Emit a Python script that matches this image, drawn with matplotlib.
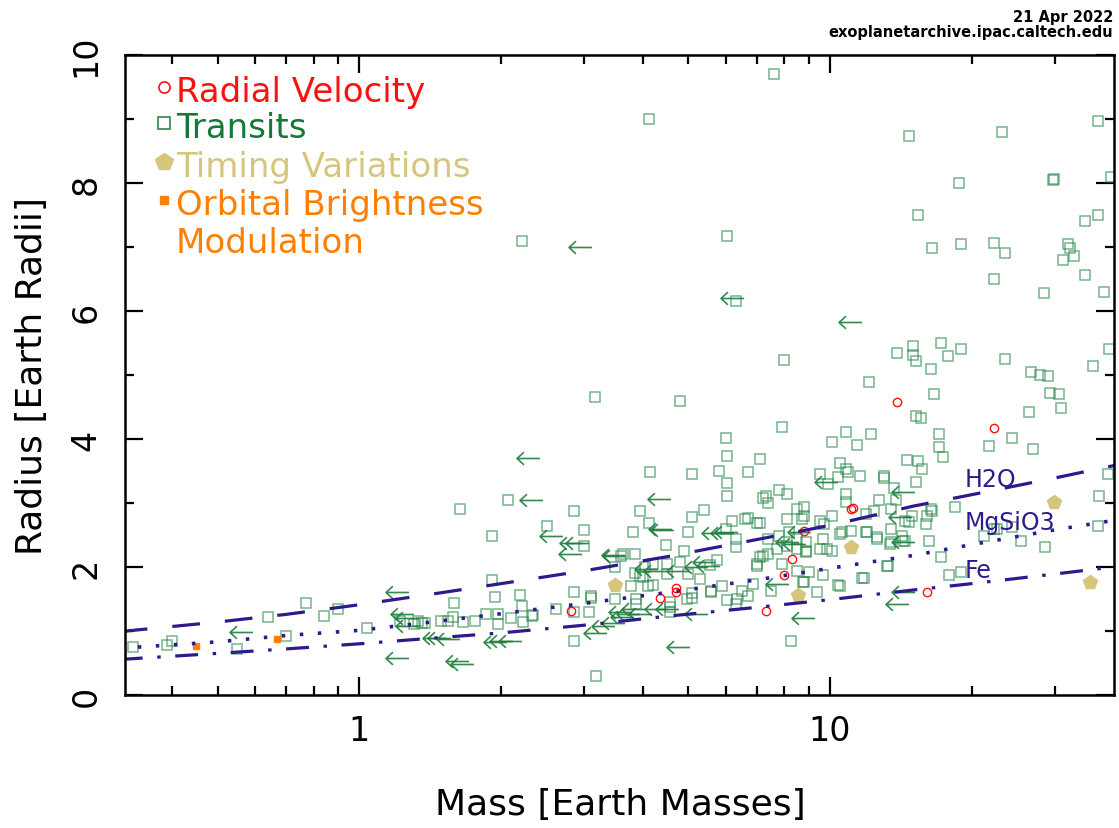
import numpy as np
import matplotlib
matplotlib.use("Agg")
import matplotlib.pyplot as plt
from matplotlib.path import Path
from matplotlib.ticker import FixedLocator, FixedFormatter, NullFormatter

# --- data (mass [Earth masses], radius [Earth radii]) ---

transits = [
    # big / isolated ones
    (7.6, 9.7), (4.13, 9.0), (14.7, 8.73), (23.2, 8.8), (37.1, 8.97),
    (18.8, 8.0), (29.9, 8.07), (29.8, 8.04), (39.5, 8.1), (15.4, 7.5),
    (16.5, 6.98), (19.0, 7.05), (22.3, 7.06), (23.5, 6.9), (32.0, 7.05),
    (32.4, 6.98), (33.0, 6.86), (31.3, 6.8), (34.8, 7.4), (37.0, 7.5),
    (34.8, 6.56), (22.3, 6.5), (28.5, 6.28), (38.2, 6.3), (6.04, 7.17),
    (6.3, 6.15), (2.22, 7.1),
    # 4 - 6
    (3.17, 4.66), (4.8, 4.6), (8.0, 5.23), (7.9, 4.19), (13.9, 5.34),
    (15.0, 5.45), (15.0, 5.31), (15.2, 5.22), (17.2, 5.5), (17.8, 5.3),
    (19.0, 5.4), (16.4, 5.1), (12.1, 4.89), (16.6, 4.7), (15.2, 4.36),
    (15.6, 4.33), (23.5, 5.25), (26.7, 5.05), (27.9, 5.0), (29.1, 4.98),
    (29.3, 4.72), (30.7, 4.7), (30.9, 4.48), (26.5, 4.42), (36.1, 5.14),
    (39.2, 5.4), (21.8, 3.89), (24.4, 4.02), (27.0, 3.84),
    # 3 - 4
    (17.0, 4.08), (17.0, 3.88), (17.4, 3.72), (14.6, 3.67), (15.4, 3.66),
    (15.7, 3.53), (15.2, 3.33), (13.0, 3.42), (13.0, 3.39), (10.8, 4.11),
    (10.1, 3.95), (11.4, 3.9), (12.2, 4.08), (6.0, 4.02), (6.05, 3.73),
    (7.1, 3.69), (6.05, 3.31), (6.05, 3.11), (5.8, 3.5), (6.7, 3.48),
    (4.15, 3.48), (5.1, 3.45), (10.5, 3.62), (10.8, 3.53), (10.9, 3.48),
    (9.5, 3.45), (9.9, 3.3), (10.4, 3.4), (11.6, 3.42), (10.8, 3.14),
    (10.8, 3.02), (12.7, 3.05), (13.8, 3.05), (13.7, 3.23), (7.3, 3.11),
    (7.2, 3.08), (7.4, 3.0), (7.8, 3.2), (8.1, 3.14), (37.2, 3.11),
    (39.0, 3.45), (2.07, 3.05), (1.64, 2.9), (2.86, 2.88), (3.95, 2.88),
    # 2 - 3
    (3.0, 2.58), (4.13, 2.69), (3.81, 2.55), (3.0, 2.33), (4.49, 2.34),
    (5.0, 2.55), (5.1, 2.78), (5.4, 2.89), (6.0, 2.6), (6.2, 2.72),
    (6.3, 2.44), (6.3, 2.31), (6.6, 2.75), (6.7, 2.77), (7.0, 2.69),
    (7.1, 2.69), (11.9, 2.83), (12.4, 2.88), (13.5, 2.9), (14.4, 2.72),
    (14.9, 2.8), (16.4, 2.9), (16.1, 2.8), (16.0, 2.67), (18.4, 2.94),
    (16.2, 2.4), (14.4, 2.4), (13.5, 2.6), (13.5, 2.39), (12.6, 2.47),
    (12.6, 2.44), (11.9, 2.55), (11.1, 2.56), (10.5, 2.52), (17.2, 2.16),
    (13.3, 2.02), (21.2, 2.49), (22.3, 2.6), (25.4, 2.4), (28.6, 2.31),
    (37.0, 2.64), (14.7, 2.7), (16.5, 2.88), (22.6, 2.6), (24.4, 2.62),
    (1.91, 2.49), (2.5, 2.64), (8.1, 2.75), (8.5, 2.9), (8.8, 2.94),
    (8.7, 2.75), (8.8, 2.8), (9.5, 2.72), (10.1, 2.8), (9.7, 2.67),
    (10.6, 2.55), (12.0, 2.55), (14.2, 2.48), (14.3, 2.41), (13.4, 2.36),
    (7.4, 2.44), (7.8, 2.48), (8.2, 2.55), (8.5, 2.44), (8.9, 2.39),
    (8.9, 2.25), (8.5, 2.28), (7.4, 2.2), (7.1, 2.16), (7.2, 2.17),
    (7.7, 2.28), (8.1, 2.33), (9.65, 2.44), (9.85, 2.28), (10.1, 2.25),
    (9.5, 2.28), (8.9, 2.23), (3.63, 2.2), (3.85, 2.2), (4.05, 2.0),
    (4.2, 2.05), (4.5, 2.05), (4.8, 2.08), (4.9, 2.25), (3.6, 2.17),
    (5.55, 2.03), (5.75, 2.11), (7.0, 2.02), (7.0, 2.05), (7.9, 2.05),
    # 1.5 - 2
    (11.8, 1.83), (17.9, 1.87), (19.0, 1.92), (13.2, 2.02), (11.7, 1.83),
    (10.4, 1.72), (8.5, 1.94), (9.0, 1.92), (9.65, 1.88), (8.8, 1.77),
    (9.4, 1.61), (10.5, 1.7), (8.76, 1.77), (6.85, 1.73), (6.5, 1.63),
    (6.7, 1.55), (6.35, 1.5), (6.3, 1.42), (6.05, 1.48), (5.9, 1.7),
    (5.6, 1.63), (5.3, 1.81), (5.0, 1.89), (4.57, 1.45), (4.57, 1.38),
    (4.57, 1.3), (5.1, 1.52), (5.1, 1.59), (4.97, 1.5), (5.6, 1.61),
    (7.5, 1.63), (3.5, 2.0), (3.85, 1.9), (3.95, 1.86), (4.0, 1.84),
    (4.5, 1.89), (3.78, 1.7), (4.1, 1.7), (4.2, 1.72), (1.91, 1.8),
    (1.94, 1.53), (2.2, 1.56), (1.59, 1.44), (2.86, 1.61), (3.1, 1.52),
    (3.5, 1.5), (3.87, 1.42), (3.87, 1.5), (3.1, 1.55),
    # 1 - 1.5
    (2.22, 1.39), (2.34, 1.25), (2.23, 1.14), (2.1, 1.2), (1.97, 1.27),
    (1.97, 1.11), (1.86, 1.27), (1.76, 1.16), (1.66, 1.14), (1.58, 1.22),
    (1.54, 1.16), (1.49, 1.16), (1.38, 1.13), (2.33, 1.23), (2.62, 1.34),
    (2.86, 1.3), (3.08, 1.3), (1.22, 1.16), (1.31, 1.11), (1.33, 1.16),
    (1.36, 1.13), (1.04, 1.05),
    # small ones
    (8.26, 0.84), (2.86, 0.84), (3.18, 0.3), (0.33, 0.75), (0.39, 0.78),
    (0.40, 0.84), (0.55, 0.72), (0.64, 1.22), (0.70, 0.92), (0.77, 1.44),
    (0.84, 1.23), (0.9, 1.34),
]

# transits with only a mass upper limit (drawn as left arrows)
transit_limits = [
    (2.95, 7.0), (6.2, 6.2), (11.0, 5.83), (2.28, 3.7), (2.32, 3.05),
    (4.33, 3.06), (4.4, 2.58), (2.82, 2.38), (2.8, 2.2), (2.56, 2.48),
    (5.9, 2.53), (9.8, 3.33), (14.3, 3.17), (14.1, 2.78), (14.3, 2.39),
    (14.3, 1.61), (13.9, 1.42), (1.2, 1.61), (1.23, 1.27), (1.26, 1.2),
    (1.26, 1.08), (1.2, 0.58), (0.56, 0.98), (1.44, 0.89), (1.48, 0.89),
    (1.54, 0.88), (1.94, 0.83), (2.0, 0.84), (2.09, 0.84), (1.61, 0.53),
    (1.65, 0.48), (3.17, 0.97), (3.3, 1.08), (3.46, 1.13), (3.62, 1.22),
    (3.72, 1.27), (3.82, 1.34), (3.95, 1.27), (3.58, 1.3), (3.46, 2.19),
    (4.36, 2.6), (5.65, 2.53), (5.4, 2.08), (5.5, 2.02), (5.2, 2.0),
    (8.1, 2.39), (8.6, 2.55), (7.7, 1.73), (5.2, 1.27), (8.75, 1.2),
    (4.76, 0.75), (4.5, 1.34), (4.27, 1.34), (4.06, 1.97), (4.25, 1.94),
    (4.75, 1.94), (6.0, 2.55), (8.4, 2.36), (3.47, 2.17), (2.9, 2.38),
]

radial_velocity = [
    (13.9, 4.58), (22.3, 4.17), (11.1, 2.9), (11.2, 2.92), (8.8, 2.56),
    (8.3, 2.13), (8.0, 1.88), (7.3, 1.31), (16.1, 1.61), (4.7, 1.67),
    (4.7, 1.61), (4.36, 1.52), (2.82, 1.31),
]

timing_variations = [(3.5, 1.72), (8.55, 1.57), (11.1, 2.31), (29.9, 3.01), (35.7, 1.76)]

brightness_modulation = [(0.45, 0.77), (0.67, 0.88)]

# composition curves
model_mass = [0.31, 0.5, 0.7, 1.0, 1.5, 2, 3, 4.5, 7, 10, 15, 20, 30, 41]
h2o_radius = [0.99, 1.14, 1.26, 1.41, 1.6, 1.74, 1.94, 2.16, 2.43, 2.65, 2.95, 3.13, 3.39, 3.6]
mgsio3_radius = [0.73, 0.83, 0.93, 1.01, 1.16, 1.27, 1.43, 1.6, 1.8, 1.98, 2.18, 2.35, 2.58, 2.74]
fe_radius = [0.555, 0.65, 0.72, 0.8, 0.9, 0.97, 1.09, 1.23, 1.37, 1.49, 1.64, 1.74, 1.89, 2.01]

RV_COLOR = "#ff1010"
TR_COLOR = "#2e8a4e"
TR_TEXT = "#107a36"
TTV_COLOR = "#d6c67c"
OBM_COLOR = "#ff7f00"
MODEL_COLOR = "#2d1b8e"
W, H = 1119, 829


def arrow_marker():
    verts = [(1, 0), (-1, 0), (-0.4, 0.55), (-1, 0), (-0.4, -0.55)]
    codes = [Path.MOVETO, Path.LINETO, Path.MOVETO, Path.LINETO, Path.LINETO]
    return Path(verts, codes)


def px(x, y):
    # pixel position -> figure fraction
    return x / W, 1 - y / H


def main():
    plt.rcParams["font.family"] = ["DejaVu Sans"]
    plt.rcParams["lines.scale_dashes"] = False

    fig = plt.figure(figsize=(W / 100, H / 100), dpi=100)
    ax = fig.add_axes([125 / W, 1 - 696 / H, 989 / W, 640 / H])

    ax.set_xscale("log")
    ax.set_xlim(0.318, 40.1)
    ax.set_ylim(0, 10)

    m, r = zip(*transits)
    ax.plot(m, r, ls="none", marker="s", ms=7.5, mfc="none", mec=TR_COLOR,
            mew=1.1, alpha=0.65)
    m, r = zip(*transit_limits)
    ax.plot(m, r, ls="none", marker=arrow_marker(), ms=16.5, mfc="none",
            mec="#1f7d3d", mew=1.2, alpha=0.9)
    m, r = zip(*radial_velocity)
    ax.plot(m, r, ls="none", marker="o", ms=6, mfc="none", mec=RV_COLOR, mew=1.0)
    m, r = zip(*timing_variations)
    ax.plot(m, r, ls="none", marker="p", ms=10, mfc=TTV_COLOR, mec=TTV_COLOR)
    m, r = zip(*brightness_modulation)
    ax.plot(m, r, ls="none", marker="s", ms=4.5, mfc=OBM_COLOR, mec=OBM_COLOR)

    ax.plot(model_mass, h2o_radius, color=MODEL_COLOR, lw=2.3, dashes=(20, 18))
    ax.plot(model_mass, mgsio3_radius, color=MODEL_COLOR, lw=2.6, dashes=(2.5, 10.5))
    ax.plot(model_mass, fe_radius, color=MODEL_COLOR, lw=2.3, dashes=(16.5, 10.5, 2.5, 10.5))

    # axes styling
    ax.xaxis.set_major_locator(FixedLocator([1, 10]))
    ax.xaxis.set_major_formatter(FixedFormatter(["1", "10"]))
    ax.xaxis.set_minor_locator(FixedLocator([0.4, 0.5, 0.6, 0.7, 0.8, 0.9,
                                             2, 3, 4, 5, 6, 7, 8, 9, 20, 30]))
    ax.xaxis.set_minor_formatter(NullFormatter())
    ax.set_yticks([0, 2, 4, 6, 8, 10])
    ax.set_yticks([1, 3, 5, 7, 9], minor=True)
    ax.tick_params(which="both", direction="in", top=True, right=True, width=1.6,
                   labelsize=24)
    ax.tick_params(which="major", length=13)
    ax.tick_params(which="minor", length=6.5)
    ax.tick_params(axis="x", pad=14)
    ax.tick_params(axis="y", labelrotation=90, pad=16)
    for lab in ax.get_yticklabels():
        lab.set_va("center")
    for s in ax.spines.values():
        s.set_linewidth(1.8)

    fig.text(*px(620, 805), "Mass [Earth Masses]", fontsize=26, ha="center", va="center")
    fig.text(*px(32, 376), "Radius [Earth Radii]", fontsize=26, ha="center", va="center",
             rotation=90)

    # curve labels
    fig.text(*px(965, 487), "H2O", fontsize=17, color=MODEL_COLOR, va="baseline")
    fig.text(*px(965, 530), "MgSiO3", fontsize=17, color=MODEL_COLOR, va="baseline")
    fig.text(*px(965, 578), "Fe", fontsize=17, color=MODEL_COLOR, va="baseline")

    # legend
    rows = [
        ("Radial Velocity", RV_COLOR, 102, dict(marker="o", ms=8, mfc="none", mec=RV_COLOR, mew=1.2)),
        ("Transits", TR_TEXT, 138, dict(marker="s", ms=9, mfc="none", mec=TR_COLOR, mew=1.2)),
        ("Timing Variations", TTV_COLOR, 177, dict(marker="p", ms=13, mfc=TTV_COLOR, mec=TTV_COLOR)),
        ("Orbital Brightness", OBM_COLOR, 215, dict(marker="s", ms=6, mfc=OBM_COLOR, mec=OBM_COLOR)),
    ]
    for text, color, base, mk in rows:
        fig.text(*px(176, base), text, fontsize=24.5, color=color, va="baseline")
        fx, fy = px(164, base - 14)
        fig.add_artist(plt.Line2D([fx], [fy], transform=fig.transFigure, ls="none", **mk))
    fig.text(*px(176, 253), "Modulation", fontsize=24.5, color=OBM_COLOR, va="baseline")

    fig.text(*px(1113, 22), "21 Apr 2022", fontsize=10.5, fontweight="bold",
             ha="right", va="baseline")
    fig.text(*px(1113, 37), "exoplanetarchive.ipac.caltech.edu", fontsize=10.5,
             fontweight="bold", ha="right", va="baseline")

    fig.savefig("out.png", dpi=100)


if __name__ == "__main__":
    main()
